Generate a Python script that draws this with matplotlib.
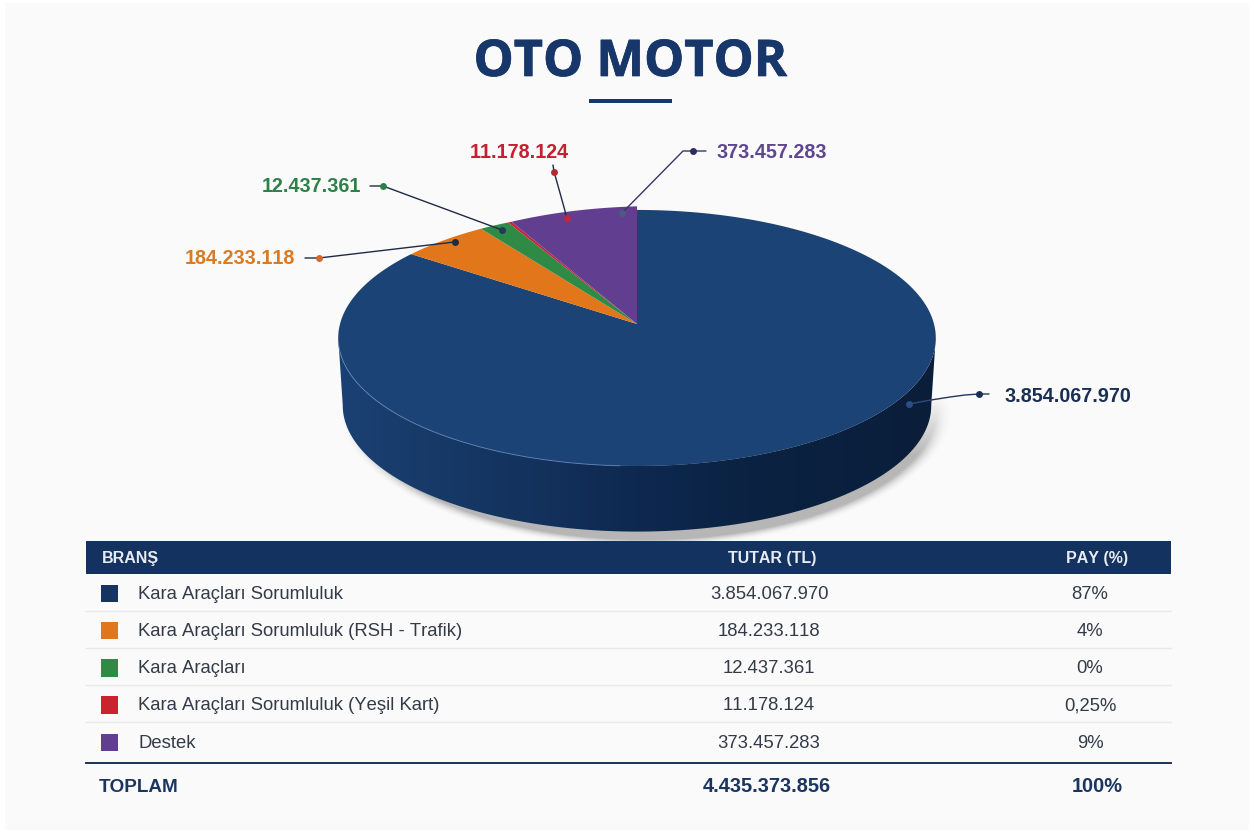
import numpy as np
import matplotlib
matplotlib.use("Agg")
import matplotlib.pyplot as plt
import matplotlib.patheffects as pe
from matplotlib.colors import LinearSegmentedColormap
from matplotlib.patches import Polygon, Rectangle

plt.rcParams["text.kerning_factor"] = 6

# ---- data ----
title = "OTO MOTOR"
categories = ["Kara Araçları Sorumluluk", "Kara Araçları Sorumluluk (RSH - Trafik)",
              "Kara Araçları", "Kara Araçları Sorumluluk (Yeşil Kart)", "Destek"]
amount_labels = ["3.854.067.970", "184.233.118", "12.437.361", "11.178.124", "373.457.283"]
share_labels = ["87%", "4%", "0%", "0,25%", "9%"]
total_label = "TOPLAM"
total_amount = "4.435.373.856"
total_share = "100%"
headers = ["BRANŞ", "TUTAR (TL)", "PAY (%)"]
# slice sweeps as they appear in the picture, degrees (clockwise from 12 o'clock)
slice_degrees = [306.0, 19.1, 6.5, 0.8, 27.6]
colors = ["#1C4375", "#E2761B", "#2F8A46", "#C4253A", "#623E91"]
swatch_colors = ["#16345F", "#E2761B", "#2F8A46", "#C9232F", "#623E91"]
label_colors = ["#1B2F55", "#DB7A22", "#2E8049", "#C42030", "#5F4690"]

NAVY = "#14325F"
BG = "#FAFAFA"
SANS = "Liberation Sans"

fig = plt.figure(figsize=(12.54, 8.33), dpi=100, facecolor="white")
ax = fig.add_axes([0, 0, 1, 1])
ax.set_xlim(0, 1254)
ax.set_ylim(833, 0)
ax.axis("off")
ax.add_patch(Rectangle((5, 3), 1244, 827, fc=BG, ec="none", zorder=0))

# ---- pie geometry ----
CX, CY = 637.0, 324.0
RX, A, B = 297.0, 126.5, 0.109


def project(phi, scale=1.0, dx=0.0, dy=0.0):
    u, v = np.sin(phi) * scale, np.cos(phi) * scale
    w = 1 + B * v
    return CX + dx + RX * u / w, CY + dy - A * v / w


# shadow
xs, ys = np.meshgrid(np.linspace(330, 1010, 340), np.linspace(380, 570, 190))
d = np.sqrt(((xs - 646) / 292.0) ** 2 + ((ys - 407) / 133.0) ** 2) - 1
alpha = 0.32 * np.clip(1 - d / 0.06, 0, 1) ** 2 * np.clip((ys - 395) / 60, 0, 1)
rgba = np.zeros(xs.shape + (4,))
rgba[..., :3] = 0.15
rgba[..., 3] = alpha
ax.imshow(rgba, extent=(330, 1010, 570, 380), aspect="auto", zorder=1, interpolation="bilinear")

# side wall
theta = np.radians(np.linspace(96, 264, 240))
top_x, top_y = project(theta)
low_x, low_y = project(theta, scale=0.985, dy=68)
wall = Polygon(np.r_[np.c_[top_x, top_y], np.c_[low_x, low_y][::-1]], closed=True,
               fc="none", ec="none", zorder=2)
ax.add_patch(wall)
wall_cmap = LinearSegmentedColormap.from_list(
    "wall", [(0.0, "#1B4174"), (0.15, "#173A68"), (0.37, "#12305A"), (0.5, "#0E2850"),
             (0.68, "#0B2242"), (1.0, "#0A1E3A")])
im = ax.imshow(np.linspace(0, 1, 256)[None, :], extent=(335, 940, 560, 300), aspect="auto",
               cmap=wall_cmap, zorder=2)
im.set_clip_path(wall)

# top slices
edges = np.cumsum([0.0] + slice_degrees)
for i, c in enumerate(colors):
    phi = np.radians(np.linspace(edges[i], edges[i + 1], max(int(slice_degrees[i] * 2), 4)))
    sc = np.linspace(1.0, 1.035, phi.size) if i == 4 else 1.0
    px, py = project(phi, scale=sc)
    ax.add_patch(Polygon(np.r_[[[CX, CY]], np.c_[px, py]], closed=True, fc=c, ec="none",
                         zorder=3 + 0.1 * i))

# thin highlight on the front-left rim
rim_x, rim_y = project(np.radians(np.linspace(183, 262, 120)))
ax.plot(rim_x, rim_y, color="#5F86B8", lw=0.7, alpha=0.8, zorder=3.6)

# ---- leader lines ----
LINE = "#1F2A44"


def leader(points, color=LINE, lw=1.0):
    pts = np.array(points, float)
    ax.plot(pts[:, 0], pts[:, 1], color=color, lw=lw, zorder=6, solid_capstyle="round")


def dot(x, y, c, s=5.0):
    ax.plot([x], [y], "o", ms=s, color=c, mew=0, zorder=7)


leader([(305, 258), (319, 258), (454.5, 242)])
dot(319, 258, "#D9662B")
dot(454.5, 242, "#1F2A44")
leader([(370, 186), (383, 186), (502, 230)])
dot(383, 186, "#2E8049")
dot(502, 230, "#1F3B5A")
leader([(553, 165), (554, 171.5), (567, 218)])
dot(554, 171.5, "#B32A35")
dot(567, 218, "#C4253A")
leader([(622, 213), (683, 151), (706, 151)], color="#3A3566")
dot(693, 151, "#2D2C63")
dot(622, 213, "#4A5A80")
leader([(909, 404), (931, 400)], color="#2E4C7C")
leader([(931, 400), (950, 397), (965, 395), (979, 394), (989, 394)], color="#24365C")
dot(979, 394, "#1B2F55")
dot(909, 404, "#2A4F85")

lab = dict(family=SANS, weight="bold", fontsize=14.2, va="baseline", zorder=8)
ax.text(1004, 401.5, amount_labels[0], color=label_colors[0], ha="left", **lab)
ax.text(295, 264.5, amount_labels[1], color=label_colors[1], ha="right", **lab)
ax.text(361, 191.5, amount_labels[2], color=label_colors[2], ha="right", **lab)
ax.text(519, 158, amount_labels[3], color=label_colors[3], ha="center", **lab)
ax.text(716, 158, amount_labels[4], color=label_colors[4], ha="left", **lab)

# ---- title ----
ax.text(630, 76, title, family="Open Sans", weight="bold", fontsize=36.4, color="#17366A",
        ha="center", va="baseline", zorder=8,
        path_effects=[pe.withStroke(linewidth=0.5, foreground="#17366A")])
ax.add_patch(Rectangle((589, 98.5), 83, 4.5, fc="#17366A", ec="none", zorder=8))

# ---- table ----
TL, TR = 86, 1171
ax.add_patch(Rectangle((TL, 541), TR - TL, 32.5, fc=NAVY, ec="none", zorder=5))
hdr = dict(family=SANS, weight="bold", fontsize=11.5, color="#E8ECF2", va="baseline", zorder=8)
ax.text(102, 563.3, headers[0], ha="left", **hdr)
ax.text(772, 563.3, headers[1], ha="center", **hdr)
ax.text(1097, 563.3, headers[2], ha="center", **hdr)

row_y = [593, 630, 667.5, 704.5, 742]
baseline_y = [599.3, 636, 673.3, 710.3, 747.7]
sep_y = [610.5, 647.5, 684.5, 721.5]
TXT = "#333B48"
body = dict(family=SANS, fontsize=13.3, color=TXT, va="baseline", zorder=8)
for i, y in enumerate(row_y):
    ax.add_patch(Rectangle((100.5, y - 8.5), 17.5, 17.5, fc=swatch_colors[i], ec="none", zorder=8))
    ax.text(138, baseline_y[i], categories[i], ha="left", **body)
    ax.text(769, baseline_y[i], amount_labels[i], ha="center", **body)
    ax.text(1090, baseline_y[i], share_labels[i], ha="center", **body)
for y in sep_y:
    ax.plot([TL, TR], [y, y], color="#E8E9EB", lw=1, zorder=4)
ax.plot([TL, TR], [762.5, 762.5], color="#1B3358", lw=1.4, zorder=4)
tot = dict(family=SANS, weight="bold", color="#1A3560", va="baseline", zorder=8)
ax.text(99, 791.7, total_label, ha="left", fontsize=13.6, **tot)
ax.text(767, 791.7, total_amount, ha="center", fontsize=14.4, **tot)
ax.text(1097, 791.7, total_share, ha="center", fontsize=14.4, **tot)

ax.set_xlim(0, 1254)
ax.set_ylim(833, 0)
fig.savefig("out.png", dpi=100, facecolor="white")
